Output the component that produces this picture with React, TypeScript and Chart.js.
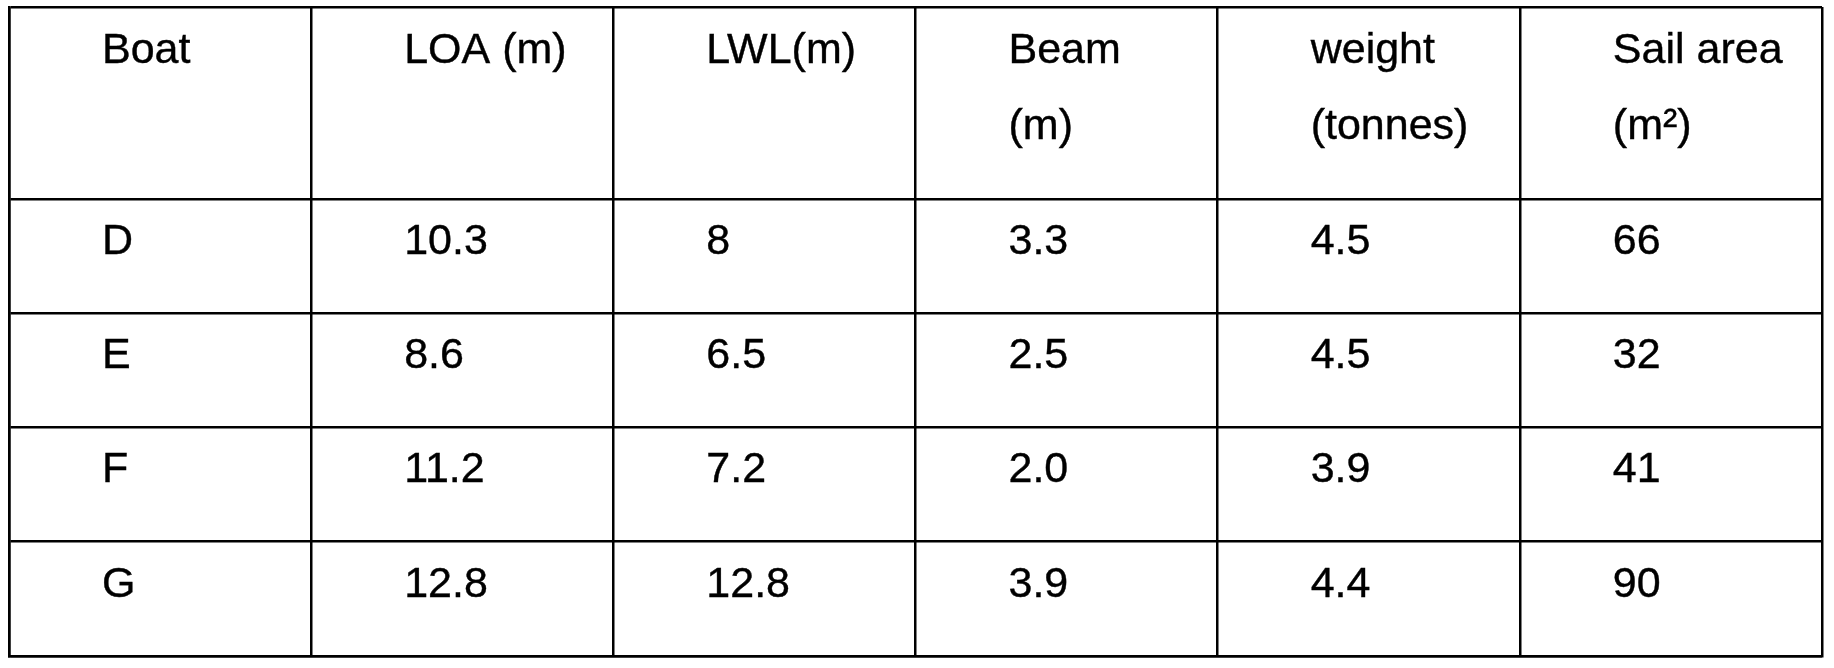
import React, { useEffect, useRef } from "react";
import { Chart, registerables } from "chart.js";

Chart.register(...registerables);

// ---- table content ----
const columnHeaders: string[][] = [
  ["Boat"],
  ["LOA (m)"],
  ["LWL(m)"],
  ["Beam", "(m)"],
  ["weight", "(tonnes)"],
  ["Sail area", "(m²)"],
];
const boats = ["D", "E", "F", "G"];
const loa = ["10.3", "8.6", "11.2", "12.8"];
const lwl = ["8", "6.5", "7.2", "12.8"];
const beam = ["3.3", "2.5", "2.0", "3.9"];
const weight = ["4.5", "4.5", "3.9", "4.4"];
const sailArea = ["66", "32", "41", "90"];

// ---- layout (not data) ----
const HEADER_SPAN = 1.68; // header row height relative to a body row
const FONT = '43px "Liberation Sans", Arial, Helvetica, sans-serif';
const TEXT_X = 93;
const BODY_BASELINE = 55;
const HEADER_BASELINES = [56, 132];
const LINE_W = 2.5;

type Cell = { x: number; y: number; lines: string[] };

function buildCells(): Cell[] {
  const cells: Cell[] = [];
  columnHeaders.forEach((lines, c) => cells.push({ x: c, y: 0, lines }));
  const columns = [boats, loa, lwl, beam, weight, sailArea];
  boats.forEach((_, r) => {
    columns.forEach((col, c) => {
      cells.push({ x: c, y: HEADER_SPAN + r, lines: [col[r]] });
    });
  });
  return cells;
}

const textPlugin = {
  id: "cellText",
  afterDatasetsDraw(chart: any) {
    const ctx = chart.ctx as CanvasRenderingContext2D;
    const meta = chart.getDatasetMeta(0);
    const data = chart.data.datasets[0].data as Cell[];
    ctx.save();
    ctx.font = FONT;
    ctx.fillStyle = "#000";
    ctx.strokeStyle = "#000";
    ctx.lineWidth = 0.4;
    ctx.textBaseline = "alphabetic";
    ctx.textAlign = "left";
    const draw = (t: string, x: number, y: number) => {
      ctx.fillText(t, x, y);
      ctx.strokeText(t, x, y);
    };
    meta.data.forEach((el: any, i: number) => {
      const cell = data[i];
      if (cell.y === 0) {
        cell.lines.forEach((t, k) => {
          draw(t, el.x + TEXT_X, el.y + HEADER_BASELINES[k]);
        });
      } else {
        draw(cell.lines[0], el.x + TEXT_X, el.y + BODY_BASELINE);
      }
    });
    ctx.restore();
  },
};

export default function App() {
  const ref = useRef<HTMLCanvasElement | null>(null);

  useEffect(() => {
    if (!ref.current) return;
    const yBounds = [0, HEADER_SPAN, ...boats.map((_, r) => HEADER_SPAN + r + 1)];
    const chart = new Chart(ref.current, {
      type: "scatter",
      data: {
        datasets: [
          {
            label: "cells",
            data: buildCells() as any,
            pointRadius: 0,
            pointHoverRadius: 0,
            showLine: false,
          },
        ],
      },
      options: {
        animation: false,
        responsive: false,
        devicePixelRatio: 1,
        events: [],
        layout: { padding: { left: 9, top: 7, right: 12, bottom: 12 } },
        plugins: {
          legend: { display: false },
          tooltip: { enabled: false },
          title: { display: false },
        },
        scales: {
          x: {
            type: "linear",
            min: 0,
            max: columnHeaders.length,
            ticks: { display: false, stepSize: 1 },
            afterBuildTicks: (axis: any) => {
              axis.ticks = columnHeaders
                .map((_, i) => i)
                .concat([columnHeaders.length])
                .map((v) => ({ value: v }));
            },
            grid: { color: "#000", lineWidth: LINE_W, drawTicks: false },
            border: { display: true, color: "#000", width: LINE_W },
          },
          y: {
            type: "linear",
            reverse: true,
            min: 0,
            max: HEADER_SPAN + boats.length,
            ticks: { display: false },
            afterBuildTicks: (axis: any) => {
              axis.ticks = yBounds.map((v) => ({ value: v }));
            },
            grid: { color: "#000", lineWidth: LINE_W, drawTicks: false },
            border: { display: true, color: "#000", width: LINE_W },
          },
        },
      },
      plugins: [textPlugin],
    });
    return () => chart.destroy();
  }, []);

  return (
    <div style={{ position: "absolute", left: 0, top: 0, width: 1834, height: 668, background: "#fff" }}>
      <canvas ref={ref} width={1834} height={668} style={{ width: 1834, height: 668, display: "block" }} />
    </div>
  );
}
